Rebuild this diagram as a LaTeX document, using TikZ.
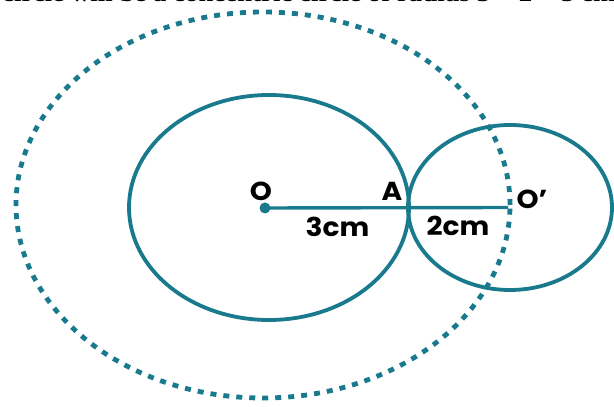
\documentclass[tikz,border=0pt]{standalone}
\usepackage{fontspec}
\setmainfont{Liberation Serif}
\newfontfamily\labelfont{Poppins}
\definecolor{tealc}{RGB}{24,122,140}
\begin{document}
\begin{tikzpicture}[x=1pt,y=1pt,
  circ/.style={draw=tealc, line width=3.8pt},
  dotcirc/.style={draw=tealc, line width=4.8pt, dash pattern=on 6pt off 7pt},
  seg/.style={draw=tealc, line width=3.4pt},
  lab/.style={font=\labelfont\bfseries\fontsize{26}{30}\selectfont, text=black, inner sep=0pt, xscale=1.08}]
\useasboundingbox (0,0) rectangle (614,407);
\clip (0,0) rectangle (614,407);
\fill[white] (0,0) rectangle (614,407);
% cut-off text line at the top
\node[anchor=base west, font=\bfseries\fontsize{22}{26}\selectfont, inner sep=0pt, xscale=1.22] (toptext) at (2,405) {circle will be a concentric circle of radius 3 + 2 = 5 cm};
% circles
\draw[dotcirc] (263,202) ellipse [x radius=247, y radius=193];
\draw[circ] (269,199.5) ellipse [x radius=140, y radius=112.5];
\draw[circ] (510,199.5) ellipse [x radius=102, y radius=82.5];
% points
\coordinate (O) at (265,199);
\coordinate (A) at (409,199.5);
\coordinate (Op) at (508,199.5);
\draw[seg] (O) -- (Op);
\fill[tealc] (O) circle (5.5);
% labels
\node[lab] (lO) at (261,216) {O};
\node[lab] (lA) at (392,216) {A};
\node[lab] (lOp) at (532,208) {O’};
\node[lab] (l3) at (337.5,180) {3cm};
\node[lab] (l2) at (458,181) {2cm};
\end{tikzpicture}
\end{document}
